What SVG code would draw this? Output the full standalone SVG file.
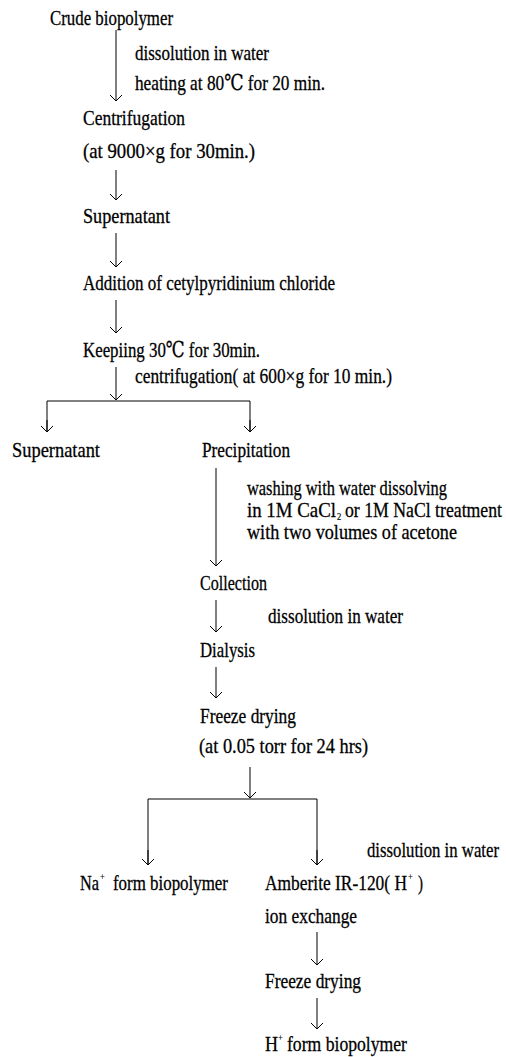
<svg xmlns="http://www.w3.org/2000/svg" width="506" height="1057" viewBox="0 0 506 1057">
<style>
text{font-family:"Liberation Serif","DejaVu Serif",serif;font-size:22px;fill:#000;stroke:#000;stroke-width:0.3}
.c{fill:none;stroke:#000;stroke-width:1}
.sm{font-size:11px;stroke-width:0.2}
</style>
<defs>
<marker id="ah" markerUnits="userSpaceOnUse" markerWidth="14" markerHeight="14" viewBox="-8 -7 10 14" refX="0" refY="0" orient="auto" overflow="visible">
<path d="M-6,-6 L0,0 L-6,6" fill="none" stroke="#000" stroke-width="1"/>
</marker>
</defs>
<rect width="506" height="1057" fill="#fff"/>
<g id="connectors">
<line class="c" x1="116" y1="30" x2="116" y2="101" marker-end="url(#ah)"/>
<line class="c" x1="116" y1="170" x2="116" y2="200" marker-end="url(#ah)"/>
<line class="c" x1="116" y1="233" x2="116" y2="267" marker-end="url(#ah)"/>
<line class="c" x1="116" y1="300" x2="116" y2="333" marker-end="url(#ah)"/>
<line class="c" x1="116" y1="367" x2="116" y2="400" marker-end="url(#ah)"/>
<polyline class="c" points="47,432 47,401 250,401 250,432"/>
<line class="c" x1="47" y1="420" x2="47" y2="432" marker-end="url(#ah)"/>
<line class="c" x1="250" y1="420" x2="250" y2="432" marker-end="url(#ah)"/>
<line class="c" x1="216" y1="468" x2="216" y2="566" marker-end="url(#ah)"/>
<line class="c" x1="216" y1="600" x2="216" y2="632" marker-end="url(#ah)"/>
<line class="c" x1="216" y1="667" x2="216" y2="698" marker-end="url(#ah)"/>
<line class="c" x1="250" y1="767" x2="250" y2="798" marker-end="url(#ah)"/>
<polyline class="c" points="148,865 148,799 317,799 317,865"/>
<line class="c" x1="148" y1="850" x2="148" y2="865" marker-end="url(#ah)"/>
<line class="c" x1="317" y1="850" x2="317" y2="865" marker-end="url(#ah)"/>
<line class="c" x1="317" y1="932" x2="317" y2="965" marker-end="url(#ah)"/>
<line class="c" x1="317" y1="998" x2="317" y2="1029" marker-end="url(#ah)"/>
</g>
<g id="n-crude" transform="scale(0.77 1)"><text x="64.94" y="25" textLength="159.74" lengthAdjust="spacingAndGlyphs">Crude biopolymer</text></g>
<g id="l-diss1" transform="scale(0.77 1)"><text x="175.32" y="60" textLength="174.03" lengthAdjust="spacingAndGlyphs">dissolution in water</text></g>
<g id="l-heat" transform="scale(0.77 1)"><text x="175.32" y="90" textLength="246.75" lengthAdjust="spacingAndGlyphs">heating at 80℃ for 20 min.</text></g>
<g id="n-centri" transform="scale(0.77 1)"><text x="107.79" y="125" textLength="132.47" lengthAdjust="spacingAndGlyphs">Centrifugation</text>
<text x="107.79" y="158" textLength="223.38" lengthAdjust="spacingAndGlyphs">(at 9000×g for 30min.)</text></g>
<g id="n-super1" transform="scale(0.77 1)"><text x="107.79" y="223" textLength="112.99" lengthAdjust="spacingAndGlyphs">Supernatant</text></g>
<g id="n-add" transform="scale(0.77 1)"><text x="107.79" y="290" textLength="327.27" lengthAdjust="spacingAndGlyphs">Addition of cetylpyridinium chloride</text></g>
<g id="n-keep" transform="scale(0.77 1)"><text x="107.79" y="357" textLength="229.87" lengthAdjust="spacingAndGlyphs">Keepiing 30℃ for 30min.</text></g>
<g id="l-centri2" transform="scale(0.77 1)"><text x="175.32" y="383" textLength="333.77" lengthAdjust="spacingAndGlyphs">centrifugation( at 600×g for 10 min.)</text></g>
<g id="n-super2" transform="scale(0.77 1)"><text x="15.58" y="457" textLength="114.29" lengthAdjust="spacingAndGlyphs">Supernatant</text></g>
<g id="n-precip" transform="scale(0.77 1)"><text x="262.34" y="457" textLength="114.29" lengthAdjust="spacingAndGlyphs">Precipitation</text></g>
<g id="l-wash" transform="scale(0.77 1)"><text x="320.78" y="495" textLength="259.74" lengthAdjust="spacingAndGlyphs">washing with water dissolving</text>
<text x="320.78" y="517" textLength="115.58" lengthAdjust="spacingAndGlyphs">in 1M CaCl</text>
<text class="sm" x="437.66" y="520">2</text>
<text x="448.05" y="517" textLength="203.9" lengthAdjust="spacingAndGlyphs">or 1M NaCl treatment</text>
<text x="320.78" y="539" textLength="272.73" lengthAdjust="spacingAndGlyphs">with two volumes of acetone</text></g>
<g id="n-collect" transform="scale(0.77 1)"><text x="259.74" y="590" textLength="87.01" lengthAdjust="spacingAndGlyphs">Collection</text></g>
<g id="l-diss2" transform="scale(0.77 1)"><text x="348.05" y="623" textLength="175.32" lengthAdjust="spacingAndGlyphs">dissolution in water</text></g>
<g id="n-dial" transform="scale(0.77 1)"><text x="259.74" y="657" textLength="71.43" lengthAdjust="spacingAndGlyphs">Dialysis</text></g>
<g id="n-freeze1" transform="scale(0.77 1)"><text x="259.74" y="723" textLength="124.68" lengthAdjust="spacingAndGlyphs">Freeze drying</text>
<text x="258.44" y="753" textLength="219.48" lengthAdjust="spacingAndGlyphs">(at 0.05 torr for 24 hrs)</text></g>
<g id="l-diss3" transform="scale(0.77 1)"><text x="476.62" y="857" textLength="171.43" lengthAdjust="spacingAndGlyphs">dissolution in water</text></g>
<g id="n-na" transform="scale(0.77 1)"><text x="103.9" y="890" textLength="24.68" lengthAdjust="spacingAndGlyphs">Na</text>
<text class="sm" x="129.87" y="880">+</text>
<text x="146.75" y="890" textLength="149.35" lengthAdjust="spacingAndGlyphs">form biopolymer</text></g>
<g id="n-amb" transform="scale(0.77 1)"><text x="344.16" y="890" textLength="184.42" lengthAdjust="spacingAndGlyphs">Amberite IR-120( H</text>
<text class="sm" x="529.87" y="880">+</text>
<text x="542.86" y="890" textLength="6.49" lengthAdjust="spacingAndGlyphs">)</text>
<text x="344.16" y="923" textLength="119.48" lengthAdjust="spacingAndGlyphs">ion exchange</text></g>
<g id="n-freeze2" transform="scale(0.77 1)"><text x="344.16" y="988" textLength="124.68" lengthAdjust="spacingAndGlyphs">Freeze drying</text></g>
<g id="n-h" transform="scale(0.77 1)"><text x="344.16" y="1051" textLength="16.88" lengthAdjust="spacingAndGlyphs">H</text>
<text class="sm" x="361.04" y="1041">+</text>
<text x="372.73" y="1051" textLength="155.84" lengthAdjust="spacingAndGlyphs">form biopolymer</text></g>
</svg>
